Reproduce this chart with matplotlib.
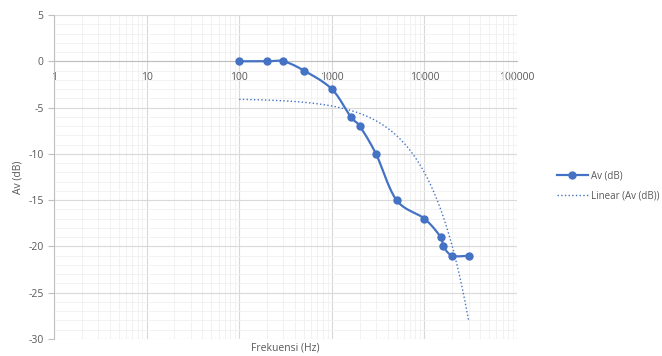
import numpy as np
import matplotlib.pyplot as plt
from matplotlib.ticker import LogLocator, MultipleLocator, FixedLocator

# data
freq = [100, 200, 300, 500, 1000, 1600, 2000, 3000, 5000, 10000, 15000, 16000, 20000, 30000]
av_db = [0, 0, 0, -1, -3, -6, -7, -10, -15, -17, -19, -20, -21, -21]
x_ticks = [1, 10, 100, 1000, 10000, 100000]
y_ticks = [5, 0, -5, -10, -15, -20, -25, -30]

blue = '#4472C4'
txt = '#595959'


def smooth(xs, ys, n=20, t=0.5):
    # kurva halus ala Excel (catmull-rom di ruang log x)
    lx = np.log10(xs)
    ys = np.asarray(ys, float)
    px = np.concatenate([[lx[0]], lx, [lx[-1]]])
    py = np.concatenate([[ys[0]], ys, [ys[-1]]])
    ox, oy = [], []
    for i in range(1, len(px) - 2):
        p0, p1, p2, p3 = np.array([px[i-1], py[i-1]]), np.array([px[i], py[i]]), \
            np.array([px[i+1], py[i+1]]), np.array([px[i+2], py[i+2]])
        c1 = p1 + (p2 - p0) * t / 3
        c2 = p2 - (p3 - p1) * t / 3
        s = np.linspace(0, 1, n)[:, None]
        b = (1-s)**3*p1 + 3*(1-s)**2*s*c1 + 3*(1-s)*s**2*c2 + s**3*p2
        ox.extend(b[:, 0]); oy.extend(b[:, 1])
    return 10**np.array(ox), np.array(oy)


plt.rcParams['font.family'] = ['Open Sans', 'DejaVu Sans']
fig = plt.figure(figsize=(6.62, 3.56), dpi=100)
ax = fig.add_axes([54/662, 1-339/356, (517-54)/662, (339-15)/356])

ax.set_xscale('log')
ax.set_xlim(1, 100000)
ax.set_ylim(-30, 5)

# garis data
sx, sy = smooth(freq, av_db)
ax.plot(sx, sy, color=blue, lw=1.6, zorder=3)
ax.plot(freq, av_db, 'o', color=blue, ms=5, zorder=4)
h1, = ax.plot([], [], '-o', color=blue, lw=1.6, ms=5, label='Av (dB)')

# trendline linear
b, a = np.polyfit(freq, av_db, 1)
tx = np.logspace(2, np.log10(30000), 300)
h2, = ax.plot(tx, a + b*tx, ':', color=blue, lw=1.0, label='Linear (Av (dB))', zorder=2)

# grid
ax.xaxis.set_major_locator(FixedLocator(x_ticks))
ax.xaxis.set_minor_locator(LogLocator(base=10, subs=np.arange(2, 10)))
ax.yaxis.set_major_locator(FixedLocator(y_ticks))
ax.yaxis.set_minor_locator(MultipleLocator(1))
ax.grid(which='major', color='#d9d9d9', lw=0.8)
ax.grid(which='minor', color='#f0f0f0', lw=0.6)
ax.set_axisbelow(True)

ax.set_xticklabels([str(v) for v in x_ticks])
ax.set_yticklabels([str(v) for v in y_ticks])

for s in ['top', 'right']:
    ax.spines[s].set_visible(False)
ax.spines['bottom'].set_position(('data', 0))
ax.spines['bottom'].set_color('#bfbfbf')
ax.spines['left'].set_color('#bfbfbf')
ax.tick_params(axis='x', which='both', length=0, labelsize=7.5, colors=txt, pad=8)
ax.tick_params(axis='y', which='major', length=4, color='#bfbfbf', labelsize=7.5, labelcolor=txt)
ax.tick_params(axis='y', which='minor', length=0)

fig.text(18/662, 1-177/356, 'Av (dB)', rotation=90, ha='center', va='center', fontsize=7.5, color=txt)
fig.text(285/662, 1-348/356, 'Frekuensi (Hz)', ha='center', va='center', fontsize=7.5, color=txt)

fig.legend(handles=[h1, h2], loc='center left', bbox_to_anchor=(548/662, 1-186/356),
           frameon=False, fontsize=7, labelcolor=txt, handlelength=3.2, handletextpad=0.3,
           labelspacing=1.0)

fig.savefig('out.png', dpi=100)
